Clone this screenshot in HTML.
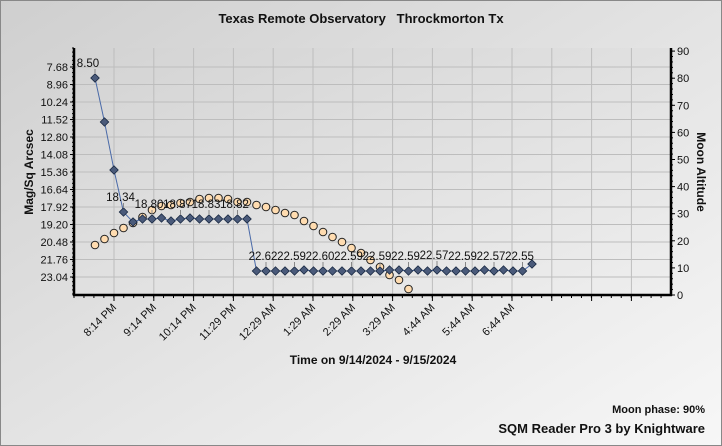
<!DOCTYPE html>
<html><head><style>body{margin:0;background:#fff}svg{display:block}</style></head><body>
<svg width="722" height="446" xmlns="http://www.w3.org/2000/svg" font-family="Liberation Sans, Arial, sans-serif">
<defs>
<linearGradient id="bg" x1="0" y1="0" x2="1" y2="1"><stop offset="0" stop-color="#cfcfcf"/><stop offset="1" stop-color="#f7f7f7"/></linearGradient>
<linearGradient id="pa" x1="0" y1="0" x2="1" y2="1"><stop offset="0" stop-color="#d3d3d3"/><stop offset="1" stop-color="#eeeeee"/></linearGradient>
</defs>
<rect x="0.5" y="0.5" width="721" height="445" fill="url(#bg)" stroke="#888"/>
<text x="361" y="23" text-anchor="middle" font-size="13" font-weight="bold" fill="#111" xml:space="preserve">Texas Remote Observatory   Throckmorton Tx</text>
<rect x="74" y="48" width="597" height="247" fill="url(#pa)"/>
<g stroke="#bdbdbd" stroke-width="1" id="grid"></g>
<g id="g"></g>
<text transform="translate(33,172) rotate(-90)" text-anchor="middle" font-size="12" font-weight="bold" fill="#111">Mag/Sq Arcsec</text>
<text transform="translate(697,172) rotate(90)" text-anchor="middle" font-size="12" font-weight="bold" fill="#111">Moon Altitude</text>
<text x="373" y="364" text-anchor="middle" font-size="12" font-weight="bold" fill="#111">Time on 9/14/2024 - 9/15/2024</text>
<text x="705" y="413" text-anchor="end" font-size="11" font-weight="bold" fill="#111">Moon phase: 90%</text>
<text x="705" y="433" text-anchor="end" font-size="13" font-weight="bold" fill="#111">SQM Reader Pro 3 by Knightware</text>
</svg>
<script>
const NS="http://www.w3.org/2000/svg";
const svg=document.querySelector('svg'),g=document.getElementById('g'),gr=document.getElementById('grid');
function el(p,t,a){const e=document.createElementNS(NS,t);for(const k in a)e.setAttribute(k,a[k]);p.appendChild(e);return e}
function tx(p,x,y,s,a){const e=el(p,'text',Object.assign({x,y,'font-size':11,fill:'#111'},a||{}));e.textContent=s;return e}
const L=['7.68','8.96','10.24','11.52','12.80','14.08','15.36','16.64','17.92','19.20','20.48','21.76','23.04'];
L.forEach((s,i)=>{const y=67+i*17.5;el(gr,'line',{x1:74,x2:671,y1:y,y2:y});tx(g,68,y+4,s,{'text-anchor':'end'});el(g,'line',{x1:70,x2:74,y1:y,y2:y,stroke:'#000'})});
for(let i=0;i<=9;i++){const y=295-i*27.1;tx(g,677,y+4,String(i*10));el(g,'line',{x1:671,x2:675,y1:y,y2:y,stroke:'#000'});}
for(let i=0;i<=45;i++){const y=295-i*5.42;el(g,'line',{x1:671,x2:673,y1:y,y2:y,stroke:'#000'});}
for(let i=0;i<=60;i++){const y=48+i*4.1;if(y<=295)el(g,'line',{x1:72,x2:74,y1:y,y2:y,stroke:'#000'});}
const T=['8:14 PM','9:14 PM','10:14 PM','11:29 PM','12:29 AM','1:29 AM','2:29 AM','3:29 AM','4:44 AM','5:44 AM','6:44 AM'];
for(let i=0;i<14;i++){const x=114+i*39.8;el(gr,'line',{x1:x,x2:x,y1:48,y2:295});el(g,'line',{x1:x,x2:x,y1:295,y2:301,stroke:'#000'});
 if(T[i]) tx(g,x+3,308,T[i],{'text-anchor':'end',transform:`rotate(-45 ${x+3} 308)`});}
for(let x=74;x<=671;x+=9.95)el(g,'line',{x1:x,x2:x,y1:295,y2:298,stroke:'#000'});
el(g,'line',{x1:74,x2:74,y1:48,y2:296,stroke:'#000','stroke-width':2.5});
el(g,'line',{x1:671,x2:671,y1:48,y2:296,stroke:'#000','stroke-width':2.5});
el(g,'line',{x1:73,x2:672,y1:295,y2:295,stroke:'#000','stroke-width':2.5});
const X=i=>95+9.5*i;
const oy=[245,239,233,228,223,217,210,206,205,203,202,199,198,198,199,202,202,205,207,210,213,215,221,226,232,237,242,248,253,260,267,275,280,289];
oy.forEach((y,i)=>el(g,'circle',{cx:X(i),cy:y,r:3.8,fill:'#ffdcb0',stroke:'#222','stroke-width':1}));
const by=[78,122,170,212,222,219,219,218,221,219,218,219,219,219,219,219,219];
for(let i=17;i<47;i++)by.push(i==46?264:([22,31,32,34,36,41,43].includes(i)?270:271));
el(g,'polyline',{points:by.map((y,i)=>X(i)+','+y).join(' '),fill:'none',stroke:'#4a6aa8','stroke-width':1});
by.forEach((y,i)=>el(g,'rect',{x:X(i)-3,y:y-3,width:6,height:6,fill:'#4a5a7a',stroke:'#1a2a44','stroke-width':0.8,transform:`rotate(45 ${X(i)} ${y})`}));
const lab=[[0,'8.50'],[3,'18.34'],[6,'18.80'],[9,'18.87'],[12,'18.83'],[15,'18.82'],[18,'22.62'],[21,'22.59'],[24,'22.60'],[27,'22.59'],[30,'22.59'],[33,'22.59'],[36,'22.57'],[39,'22.59'],[42,'22.57'],[45,'22.55']];
lab.forEach(([i,s])=>{const y=by[i];el(g,'line',{x1:X(i),x2:X(i),y1:y-9,y2:y-4,stroke:'#888'});tx(g,X(i)-(i==0?7:3),y-11,s,{'text-anchor':'middle','font-size':11.5});});
</script>
</body></html>
